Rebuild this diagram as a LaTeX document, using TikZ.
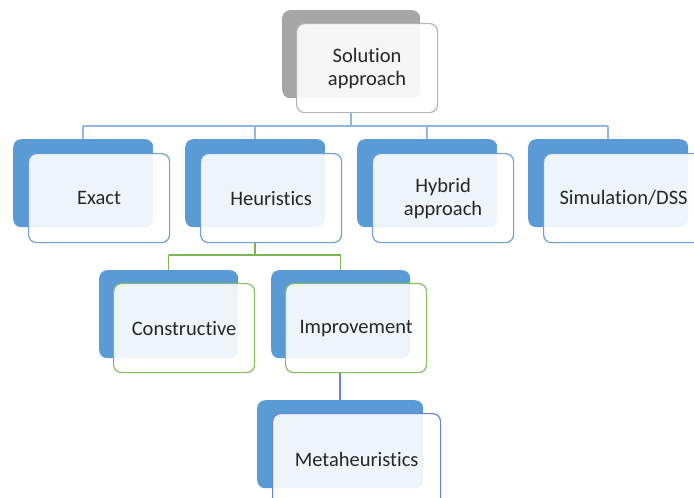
\documentclass[tikz,border=0pt]{standalone}
\usepackage{fontspec}
\setmainfont{Carlito}[Ligatures=NoCommon]
\usetikzlibrary{calc}
\definecolor{boxblue}{HTML}{5B9BD5}
\definecolor{boxgray}{HTML}{A6A6A6}
\definecolor{rimblue}{HTML}{6A9FD8}
\definecolor{rimgray}{HTML}{B4B4B4}
\definecolor{rimgreen}{HTML}{86BF62}
\definecolor{rimdeep}{HTML}{6585CF}
\definecolor{busblue}{HTML}{90B8E3}
\definecolor{busgreen}{HTML}{7DB655}
\definecolor{inkdark}{HTML}{262626}
\begin{document}
\begin{tikzpicture}[x=1pt,y=-1pt,
  backbox/.style={rounded corners=8pt, inner sep=0pt, minimum height=88pt,
    minimum width=#1, anchor=north west},
  backbox/.default=140pt,
  frontbox/.style={rounded corners=8pt, inner sep=0pt, minimum height=89pt,
    minimum width=#1, fill=white, fill opacity=0.9, text opacity=1,
    line width=1.2pt, align=center, text=inkdark,
    font=\fontsize{20.5}{23}\selectfont},
  frontbox/.default=141pt,
  bus/.style={line width=1.5pt}
]
\useasboundingbox (0,0) rectangle (694,498);

% root
\node[backbox=138pt, fill=boxgray] (root-b) at (282,10) {};
\node[frontbox, draw=rimgray, anchor=north west] (root) at ($(root-b.north west)+(14,13)$) {Solution\\approach};

% first tier
\node[backbox, fill=boxblue] (exact-b) at (13,139) {};
\node[backbox, fill=boxblue] (heur-b) at (185,139) {};
\node[backbox, fill=boxblue] (hybrid-b) at (357,139) {};
\node[backbox=160pt, fill=boxblue] (simul-b) at (528,139) {};
\node[frontbox, draw=rimblue, anchor=north west] (exact) at ($(exact-b.north west)+(15,14)$) {Exact};
\node[frontbox, draw=rimblue, anchor=north west] (heur) at ($(heur-b.north west)+(15,14)$) {Heuristics};
\node[frontbox, draw=rimblue, anchor=north west] (hybrid) at ($(hybrid-b.north west)+(15,14)$) {Hybrid\\approach};
\node[frontbox=160pt, draw=rimblue, anchor=north west] (simul) at ($(simul-b.north west)+(15,14)$) {Simulation/DSS};

% second tier
\node[backbox=139pt, fill=boxblue] (constr-b) at (99,270) {};
\node[backbox=139pt, fill=boxblue] (improv-b) at (271,270) {};
\node[frontbox, draw=rimgreen, anchor=north west] (constr) at ($(constr-b.north west)+(14,13)$) {Constructive};
\node[frontbox, draw=rimgreen, anchor=north west] (improv) at ($(improv-b.north west)+(14,13)$) {Improvement};

% third tier, its lower edge runs past the page
\node[backbox=166pt, fill=boxblue] (meta-b) at (257,400) {};
\node[frontbox=168pt, minimum height=94pt, draw=rimdeep, anchor=north west] (meta) at ($(meta-b.north west)+(15,13)$) {\raisebox{2.5pt}{Metaheuristics}};

% connectors
\coordinate (bus1) at (0,126);
\coordinate (bus2) at (0,255);
\draw[bus, busblue] (root-b.south |- root.south) -- (root-b.south |- bus1);
\draw[bus, busblue] (exact-b.north |- bus1) -- (simul-b.north |- bus1);
\foreach \n in {exact,heur,hybrid,simul}
  \draw[bus, busblue] (\n-b.north |- bus1) -- (\n-b.north);
\draw[bus, busgreen] (heur-b.south |- heur.south) -- (heur-b.south |- bus2);
\draw[bus, busgreen] (constr-b.north |- bus2) -- (improv-b.north |- bus2);
\foreach \n in {constr,improv}
  \draw[bus, busgreen] (\n-b.north |- bus2) -- (\n-b.north);
\draw[bus, rimdeep] (meta-b.north |- improv.south) -- (meta-b.north);
\end{tikzpicture}
\end{document}
